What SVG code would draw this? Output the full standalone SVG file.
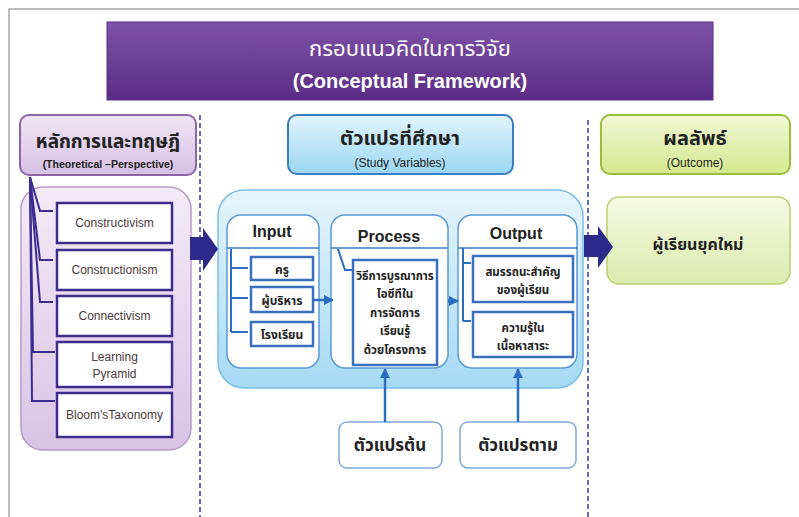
<svg xmlns="http://www.w3.org/2000/svg" width="799" height="517" viewBox="0 0 799 517">
<defs>
<linearGradient id="gTitle" x1="0" y1="0" x2="0" y2="1"><stop offset="0" stop-color="#7e52a6"/><stop offset="1" stop-color="#5a2c86"/></linearGradient>
<linearGradient id="gPurple" x1="0" y1="0" x2="0" y2="1"><stop offset="0" stop-color="#f0e6f5"/><stop offset="1" stop-color="#d6bfe3"/></linearGradient>
<linearGradient id="gPanelL" x1="0" y1="0" x2="0" y2="1"><stop offset="0" stop-color="#f3ebf7"/><stop offset="1" stop-color="#d9c3e6"/></linearGradient>
<linearGradient id="gBlue" x1="0" y1="0" x2="0" y2="1"><stop offset="0" stop-color="#e2f5fd"/><stop offset="1" stop-color="#9ad6f1"/></linearGradient>
<linearGradient id="gPanelM" x1="0" y1="0" x2="0" y2="1"><stop offset="0" stop-color="#e6f5fc"/><stop offset="1" stop-color="#a5daf3"/></linearGradient>
<linearGradient id="gGreen" x1="0" y1="0" x2="0" y2="1"><stop offset="0" stop-color="#f2f8d6"/><stop offset="1" stop-color="#d5e88e"/></linearGradient>
<linearGradient id="gGreen2" x1="0" y1="0" x2="0" y2="1"><stop offset="0" stop-color="#f6fae4"/><stop offset="1" stop-color="#dcebae"/></linearGradient>
<marker id="ah" viewBox="0 0 10 10" refX="9" refY="5" markerWidth="4" markerHeight="4" orient="auto"><path d="M0,0 L10,5 L0,10 z" fill="#2c6cc0"/></marker>
</defs>
<style>
.th{font-family:"Noto Sans Thai","Noto Sans","DejaVu Sans",sans-serif;font-weight:bold;text-anchor:middle}
.thl{font-family:"Noto Sans Thai","Noto Sans","DejaVu Sans",sans-serif;font-weight:normal;text-anchor:middle}
.en{font-family:"Liberation Sans",Arial,sans-serif;text-anchor:middle}
.leftbox{fill:#ffffff;stroke:#3c2d8c;stroke-width:2.5}
.col{fill:#ffffff;stroke:#5b9bd5;stroke-width:1.5}
.sub{fill:#ffffff;stroke:#3a6fc0;stroke-width:2.5}
.tree{fill:none;stroke:#3a2d8f;stroke-width:2}
.btree{fill:none;stroke:#2c6cc0;stroke-width:2}
.dash{stroke:#6b6bc0;stroke-width:2;stroke-dasharray:5 3}
.big{fill:#2e2a8c}
.sep{stroke:#3a7cc6;stroke-width:1.5}
</style>
<rect width="799" height="517" fill="#ffffff"/>
<path d="M9,517 L9,9 L799,9" fill="none" stroke="#a6a6a6" stroke-width="1.5"/>

<g id="title">
<rect x="107" y="22" width="606" height="78" fill="url(#gTitle)" stroke="#5a2f82" stroke-width="1"/>
<text class="thl" x="410" y="56" font-size="22" fill="#ffffff">กรอบแนวคิดในการวิจัย</text>
<text class="en" x="410" y="88" font-size="20" font-weight="bold" fill="#ffffff">(Conceptual Framework)</text>
</g>

<g id="dividers">
<line class="dash" x1="200" y1="115" x2="200" y2="517"/>
<line class="dash" x1="588" y1="120" x2="588" y2="517"/>
</g>

<g id="theory-header">
<rect x="20" y="115" width="176" height="60" rx="9" fill="url(#gPurple)" stroke="#8e63a8" stroke-width="2"/>
<text class="th" x="108" y="148" font-size="19" fill="#222">หลักการและทฤษฎี</text>
<text class="en" x="108" y="168" font-size="10.5" font-weight="bold" fill="#222">(Theoretical –Perspective)</text>
</g>

<g id="theory-panel">
<rect x="21" y="187" width="170" height="263" rx="22" fill="url(#gPanelL)" stroke="#b79ac9" stroke-width="1.5"/>
</g>

<g id="constructivism"><rect class="leftbox" x="57" y="203" width="115" height="40"/><text class="en" x="114.5" y="227" font-size="12" fill="#4a3a3a">Constructivism</text></g>
<g id="constructionism"><rect class="leftbox" x="57" y="250" width="115" height="40"/><text class="en" x="114.5" y="274" font-size="12" fill="#4a3a3a">Constructionism</text></g>
<g id="connectivism"><rect class="leftbox" x="57" y="296" width="115" height="40"/><text class="en" x="114.5" y="320" font-size="12" fill="#4a3a3a">Connectivism</text></g>
<g id="learning-pyramid"><rect class="leftbox" x="57" y="342" width="115" height="45"/><text class="en" x="114.5" y="361" font-size="12" fill="#4a3a3a">Learning</text><text class="en" x="114.5" y="378" font-size="12" fill="#4a3a3a">Pyramid</text></g>
<g id="blooms"><rect class="leftbox" x="57" y="393" width="115" height="44"/><text class="en" x="114.5" y="419" font-size="12" fill="#4a3a3a">Bloom'sTaxonomy</text></g>

<g id="study-header">
<rect x="288" y="115" width="225" height="59" rx="9" fill="url(#gBlue)" stroke="#3b7dc4" stroke-width="2"/>
<text class="th" x="400" y="145" font-size="20" fill="#222">ตัวแปรที่ศึกษา</text>
<text class="en" x="400" y="167" font-size="12" fill="#222">(Study Variables)</text>
</g>

<g id="study-panel">
<rect x="218" y="190" width="365" height="198" rx="26" fill="url(#gPanelM)" stroke="#7cbde6" stroke-width="1.5"/>
</g>

<g id="input">
<rect class="col" x="227" y="215" width="92" height="153" rx="14"/>
<line class="sep" x1="227" y1="248" x2="319" y2="248"/>
<text class="en" x="272" y="237" font-size="16" font-weight="bold" fill="#222">Input</text>
</g>
<g id="teacher"><rect class="sub" x="251" y="257" width="62" height="23"/><text class="th" x="282" y="274" font-size="12" fill="#222">ครู</text></g>
<g id="admin"><rect class="sub" x="251" y="287" width="62" height="25"/><text class="th" x="282" y="305" font-size="12" fill="#222">ผู้บริหาร</text></g>
<g id="school"><rect class="sub" x="251" y="322" width="62" height="24"/><text class="th" x="282" y="339" font-size="12" fill="#222">โรงเรียน</text></g>

<g id="process">
<rect class="col" x="331" y="215" width="117" height="153" rx="14"/>
<line class="sep" x1="331" y1="248" x2="448" y2="248"/>
<text class="en" x="389" y="242" font-size="16" font-weight="bold" fill="#222">Process</text>
</g>
<g id="method">
<rect class="sub" x="353" y="260" width="84" height="105"/>
<text class="th" x="395" y="280" font-size="11.5" fill="#222">วิธีการบูรณาการ</text>
<text class="th" x="395" y="298" font-size="11.5" fill="#222">ไอซีทีใน</text>
<text class="th" x="395" y="317" font-size="11.5" fill="#222">การจัดการ</text>
<text class="th" x="395" y="335" font-size="11.5" fill="#222">เรียนรู้</text>
<text class="th" x="395" y="354" font-size="11.5" fill="#222">ด้วยโครงการ</text>
</g>

<g id="output">
<rect class="col" x="458" y="215" width="119" height="153" rx="14"/>
<line class="sep" x1="458" y1="248" x2="577" y2="248"/>
<text class="en" x="516" y="239" font-size="16" font-weight="bold" fill="#222">Output</text>
</g>
<g id="competency"><rect class="sub" x="473" y="256" width="100" height="46"/><text class="th" x="523" y="276" font-size="11.5" fill="#222">สมรรถนะสำคัญ</text><text class="th" x="523" y="294" font-size="11.5" fill="#222">ของผู้เรียน</text></g>
<g id="knowledge"><rect class="sub" x="473" y="312" width="100" height="45"/><text class="th" x="523" y="332" font-size="11.5" fill="#222">ความรู้ใน</text><text class="th" x="523" y="350" font-size="11.5" fill="#222">เนื้อหาสาระ</text></g>

<g id="outcome-header">
<rect x="601" y="115" width="189" height="59" rx="9" fill="url(#gGreen)" stroke="#9cbd3c" stroke-width="2"/>
<text class="th" x="695" y="145" font-size="20" fill="#222">ผลลัพธ์</text>
<text class="en" x="695" y="167" font-size="12" fill="#222">(Outcome)</text>
</g>

<g id="new-learner">
<rect x="607" y="197" width="183" height="87" rx="12" fill="url(#gGreen2)" stroke="#b8d070" stroke-width="1.5"/>
<text class="th" x="698" y="250" font-size="16" fill="#222">ผู้เรียนยุคใหม่</text>
</g>

<g id="independent-var">
<rect x="339" y="422" width="103" height="46" rx="8" fill="#ffffff" stroke="#7fa8dc" stroke-width="1.5"/>
<text class="th" x="390" y="451" font-size="17" fill="#222">ตัวแปรต้น</text>
</g>
<g id="dependent-var">
<rect x="460" y="422" width="116" height="46" rx="8" fill="#ffffff" stroke="#7fa8dc" stroke-width="1.5"/>
<text class="th" x="518" y="451" font-size="17" fill="#222">ตัวแปรตาม</text>
</g>

<g id="connectors">
<path class="tree" d="M30,177 L40,211 L53,211"/>
<path class="tree" d="M30,177 L40,260 L53,260"/>
<path class="tree" d="M30,177 L40,302 L53,302"/>
<path class="tree" d="M30,177 L33,352 L55,352"/>
<path class="tree" d="M30,177 L32,401 L55,401"/>
<polygon class="big" points="190,237 203,237 203,228 218,249 203,271 203,260 190,260"/>
<polygon class="big" points="584,235 598,235 598,226 613,247 598,268 598,257 584,257"/>
<path class="btree" d="M231,249 L231,332 M231,268 L248,268 M231,298 L248,298 M231,332 L248,332"/>
<path class="btree" d="M338,249 L345,270 L352,270"/>
<path class="btree" d="M463,248 L463,321 M463,263 L471,263 M463,321 L471,321"/>
<line x1="313" y1="300" x2="333" y2="300" stroke="#2c6cc0" stroke-width="2.5" marker-end="url(#ah)"/>
<line x1="448" y1="301" x2="458" y2="301" stroke="#2c6cc0" stroke-width="2.5" marker-end="url(#ah)"/>
<line x1="385" y1="422" x2="385" y2="369" stroke="#2c6cc0" stroke-width="2.5" marker-end="url(#ah)"/>
<line x1="518" y1="422" x2="518" y2="369" stroke="#2c6cc0" stroke-width="2.5" marker-end="url(#ah)"/>
</g>
</svg>
